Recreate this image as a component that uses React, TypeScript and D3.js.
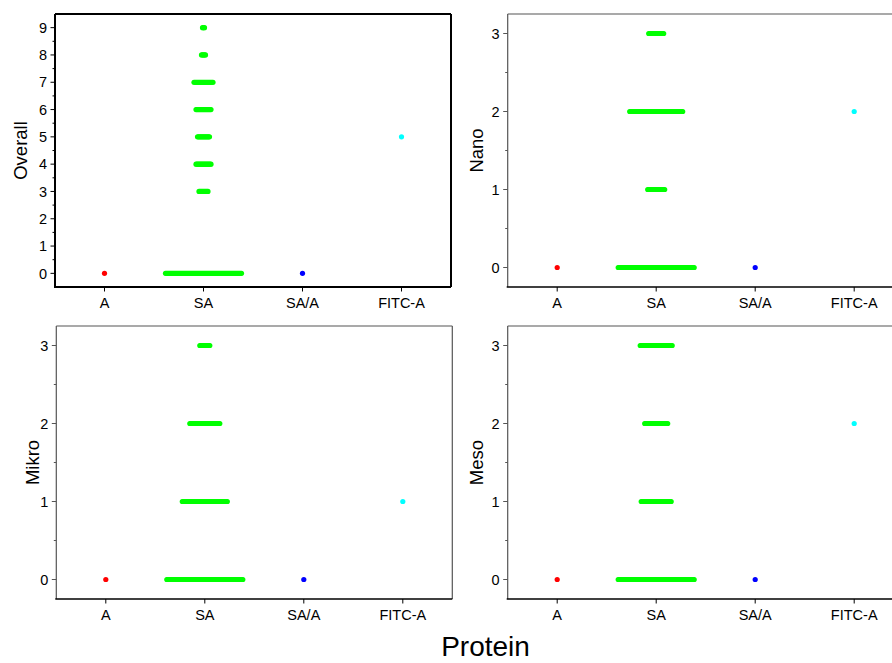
import React from "react";
import * as d3 from "d3";

const categories = ["A", "SA", "SA/A", "FITC-A"];
const catColors = ["#ff0000", "#00ff00", "#0000ff", "#00ffff"];

// SA column: value -> number of samples (read from row widths)
const overallSAValues = [0, 3, 4, 5, 6, 7, 8, 9];
const overallSACounts = [77, 10, 16, 13, 16, 20, 5, 3];
const nanoSAValues = [0, 1, 2, 3];
const nanoSACounts = [77, 18, 54, 16];
const mikroSAValues = [0, 1, 2, 3];
const mikroSACounts = [77, 46, 31, 11];
const mesoSAValues = [0, 1, 2, 3];
const mesoSACounts = [77, 31, 24, 33];

// single samples: A, SA/A, FITC-A
const overallOthers = [0, 0, 5];
const nanoOthers = [0, 0, 2];
const mikroOthers = [0, 0, 1];
const mesoOthers = [0, 0, 2];

const panels = [
  { name: "Overall", left: 55, top: 14, yDomain: [-0.5, 9.5], ticks: d3.range(0, 10), minor: d3.range(0.5, 9.5, 1), sv: overallSAValues, sc: overallSACounts, others: overallOthers, titleX: -28.3, bold: true },
  { name: "Nano", left: 507.7, top: 14, yDomain: [-0.25, 3.25], ticks: d3.range(0, 4), minor: [0.5, 1.5, 2.5], sv: nanoSAValues, sc: nanoSACounts, others: nanoOthers, titleX: -24.7, bold: false },
  { name: "Mikro", left: 56.3, top: 326, yDomain: [-0.25, 3.25], ticks: d3.range(0, 4), minor: [0.5, 1.5, 2.5], sv: mikroSAValues, sc: mikroSACounts, others: mikroOthers, titleX: -17, bold: false },
  { name: "Meso", left: 507.7, top: 326, yDomain: [-0.25, 3.25], ticks: d3.range(0, 4), minor: [0.5, 1.5, 2.5], sv: mesoSAValues, sc: mesoSACounts, others: mesoOthers, titleX: -24.7, bold: false },
];

const W = 396;
const H = 273;
const font = "'Liberation Sans', Arial, sans-serif";

function Panel({ p }: { p: any }) {
  const x = d3.scalePoint().domain(categories).range([0, W]).padding(0.5);
  const y = d3.scaleLinear().domain(p.yDomain).range([H, 0]);
  const step = 1;

  const dots: any[] = [];
  p.sv.forEach((v: number, k: number) => {
    const n = p.sc[k];
    for (let i = 0; i < n; i++) {
      dots.push({ cx: (x("SA") as number) + (i - (n - 1) / 2) * step, cy: y(v), c: catColors[1] });
    }
  });
  ["A", "SA/A", "FITC-A"].forEach((c, k) => {
    dots.push({ cx: x(c) as number, cy: y(p.others[k]), c: catColors[categories.indexOf(c)] });
  });

  const frame = p.bold ? "#000" : "#555";
  const fw = p.bold ? 2 : 1.2;

  return (
    <g transform={`translate(${p.left},${p.top})`}>
      {dots.map((d, i) => (
        <circle key={i} cx={d.cx} cy={d.cy} r={2.6} fill={d.c} />
      ))}
      <line x1={0} x2={W} y1={0} y2={0} stroke={frame} strokeWidth={fw} />
      <line x1={W} x2={W} y1={0} y2={H} stroke={frame} strokeWidth={fw} />
      <line x1={0} x2={0} y1={0} y2={H} stroke={frame} strokeWidth={fw} />
      <line x1={-1} x2={W} y1={H} y2={H} stroke="#000" strokeWidth={p.bold ? 2 : 1.5} />
      {p.ticks.map((t: number) => (
        <g key={"t" + t}>
          <line x1={-4.5} x2={0} y1={y(t)} y2={y(t)} stroke={frame} strokeWidth={1} />
          <text x={-8} y={y(t)} dy="0.36em" textAnchor="end" fontSize={14.5} fontFamily={font} fill="#000">{t}</text>
        </g>
      ))}
      {p.minor.map((t: number) => (
        <line key={"m" + t} x1={-2.5} x2={0} y1={y(t)} y2={y(t)} stroke={frame} strokeWidth={1} />
      ))}
      {categories.map((c) => (
        <g key={c}>
          <line x1={x(c)} x2={x(c)} y1={H} y2={H + 4.5} stroke="#000" strokeWidth={1} />
          <text x={x(c)} y={H + 20.5} textAnchor="middle" fontSize={14.5} fontFamily={font} fill="#000">{c}</text>
        </g>
      ))}
      <text transform={`translate(${p.titleX},${H / 2}) rotate(-90)`} textAnchor="middle" fontSize={18.5} fontFamily={font} fill="#000">{p.name}</text>
    </g>
  );
}

export default function App() {
  return (
    <svg width={892} height={663} style={{ position: "absolute", left: 0, top: 0, background: "#fff" }}>
      <rect width={892} height={663} fill="#fff" />
      {panels.map((p) => (
        <Panel key={p.name} p={p} />
      ))}
      <text x={485.5} y={656} textAnchor="middle" fontSize={28} fontFamily={font} fill="#000">Protein</text>
    </svg>
  );
}
